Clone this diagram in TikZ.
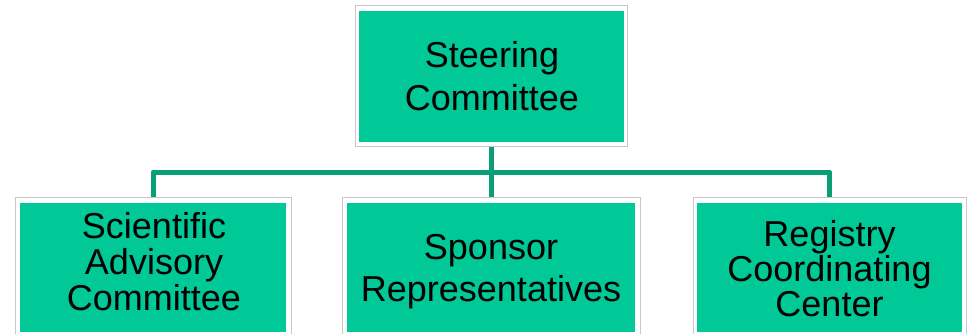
\documentclass[tikz,border=0pt]{standalone}
\usepackage{fontspec}
\setmainfont{Liberation Sans}
\definecolor{boxgreen}{RGB}{0,200,150}
\definecolor{linkgreen}{RGB}{8,158,118}
\definecolor{framegray}{RGB}{200,200,200}
\begin{document}
\begin{tikzpicture}[x=1pt,y=-1pt,
  frame/.style={draw=framegray,line width=1pt,fill=white,inner sep=0pt,
    minimum height=140pt},
  panel/.style={fill=boxgreen,inner sep=0pt},
  label2/.style={align=center,inner sep=0pt,font=\fontsize{36}{43}\selectfont},
  label3/.style={align=center,inner sep=0pt,font=\fontsize{36}{36}\selectfont},
  link/.style={draw=linkgreen,line width=5pt,line join=round}]
\useasboundingbox (0,0) rectangle (971,334);
\begin{scope}
\clip (0,0) rectangle (971,334);
% outer white frames
\node[frame,minimum width=272pt] (steer) at (491,76) {};
\node[frame,minimum width=276pt] (sac) at (153,267) {};
\node[frame,minimum width=298pt] (spon) at (491,267) {};
\node[frame,minimum width=273pt] (rcc) at (829.5,267) {};
% green panels
\node[panel,minimum width=265pt,minimum height=131pt] (steerp) at (491.5,76.5) {};
\node[panel,minimum width=266pt,minimum height=129pt] (sacp) at (153,267.5) {};
\node[panel,minimum width=288pt,minimum height=129pt] (sponp) at (491,267.5) {};
\node[panel,minimum width=265pt,minimum height=129pt] (rccp) at (829.5,267.5) {};
% captions
\node[label2] (steert) at (492,76) {Steering\\Committee};
\node[label3] (sact) at (154,261.5) {Scientific\\Advisory\\Committee};
\node[label2,font=\fontsize{36}{42}\selectfont] (spont) at (491,272) {Sponsor\\Representatives};
\node[label3,font=\fontsize{36}{35}\selectfont] (rcct) at (829.5,269) {Registry\\Coordinating\\Center};
\end{scope}
% connectors
\coordinate (bus) at (491,172);
\draw[link] (steer.south) -- (spon.north);
\draw[link] (sac.north) |- (bus) -| (rcc.north);
\end{tikzpicture}
\end{document}
